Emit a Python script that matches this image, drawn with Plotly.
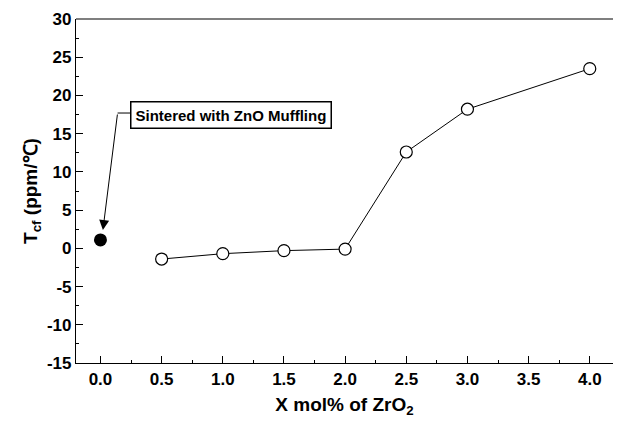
import plotly.graph_objects as go

x_open = [0.5, 1.0, 1.5, 2.0, 2.5, 3.0, 4.0]
y_open = [-1.4, -0.7, -0.3, -0.1, 12.6, 18.2, 23.5]
x_filled = [0.0]
y_filled = [1.1]
x_ticks = [0.0, 0.5, 1.0, 1.5, 2.0, 2.5, 3.0, 3.5, 4.0]
x_tick_labels = ["0.0", "0.5", "1.0", "1.5", "2.0", "2.5", "3.0", "3.5", "4.0"]
y_ticks = [30, 25, 20, 15, 10, 5, 0, -5, -10, -15]
annotation_text = "Sintered with ZnO Muffling"

fnt = dict(family="Liberation Sans, Arial, sans-serif", color="black")

fig = go.Figure()
fig.add_trace(go.Scatter(
    x=x_open, y=y_open, mode="lines+markers",
    line=dict(color="black", width=1),
    marker=dict(symbol="circle", size=12, color="white", line=dict(color="black", width=1.2)),
    showlegend=False))
fig.add_trace(go.Scatter(
    x=x_filled, y=y_filled, mode="markers",
    marker=dict(symbol="circle", size=13, color="black"),
    showlegend=False))

# top frame line (no right-hand line)
fig.add_shape(type="line", x0=0, x1=1, xref="paper", y0=1, y1=1, yref="paper",
              line=dict(color="black", width=1.2))
# elbow of the arrow
fig.add_shape(type="line", x0=0.14, y0=17.7, x1=0.27, y1=17.7,
              line=dict(color="black", width=1), xref="x", yref="y")
fig.add_annotation(x=0.02, y=2.4, ax=0.14, ay=17.7, axref="x", ayref="y",
                   xref="x", yref="y", text="", showarrow=True,
                   arrowhead=2, arrowsize=2, arrowwidth=1, arrowcolor="black")
fig.add_annotation(x=1.07, y=17.4, xref="x", yref="y", text="<b>" + annotation_text + "</b>",
                   showarrow=False, bordercolor="black", borderwidth=1.5, borderpad=4,
                   bgcolor="white", font=dict(size=15, **fnt))

fig.update_layout(
    width=616, height=414,
    margin=dict(l=68, r=11, t=11, b=59),
    plot_bgcolor="white", paper_bgcolor="white",
    xaxis=dict(range=[-0.2, 4.19], tickvals=x_ticks, ticktext=["<b>%s</b>" % t for t in x_tick_labels],
               showgrid=False, zeroline=False, showline=True, linecolor="black", linewidth=1.2,
               ticks="inside", ticklen=7, tickcolor="black", automargin=False,
               minor=dict(dtick=0.25, ticks="inside", ticklen=3, tickcolor="black"),
               tickfont=dict(size=17, **fnt),
               title=dict(text="<b>X mol% of ZrO<sub>2</sub></b>", font=dict(size=19, **fnt), standoff=10)),
    yaxis=dict(range=[-15, 30], tickvals=y_ticks, ticktext=["<b>%d</b>" % t for t in y_ticks],
               showgrid=False, zeroline=False, showline=True, linecolor="black", linewidth=1.2,
               ticks="inside", ticklen=7, tickcolor="black", automargin=False,
               minor=dict(dtick=2.5, ticks="inside", ticklen=3, tickcolor="black"),
               tickfont=dict(size=17, **fnt),
               title=dict(text="<b>T<sub>cf</sub> (ppm/℃)</b>", font=dict(size=19, **fnt), standoff=4)),
)

fig.write_html("out.html")
